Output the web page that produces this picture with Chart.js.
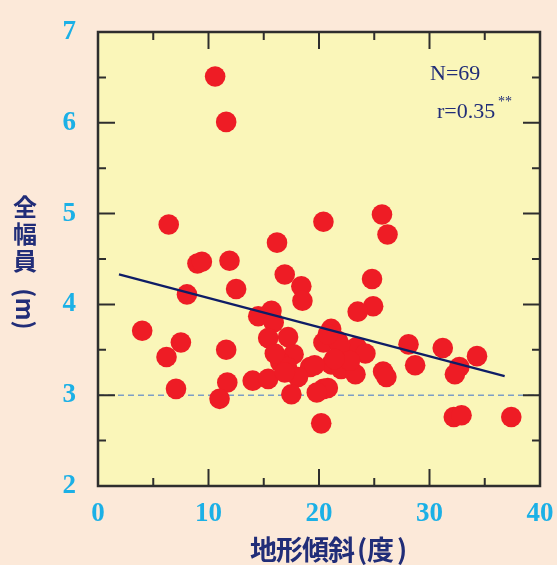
<!DOCTYPE html>
<html>
<head>
<meta charset="utf-8">
<script src="https://cdn.jsdelivr.net/npm/chart.js@4.4.1/dist/chart.umd.min.js"></script>
<style>
  html, body { margin: 0; padding: 0; background: #fce9d9; }
  canvas { display: block; }
</style>
</head>
<body>
<canvas id="chart" width="557" height="565"></canvas>
<script>
// 地形傾斜 (度) と 全幅員 (m) — 読み取った値
const slopeDeg = [10.6, 11.6, 6.4, 20.4, 25.7, 26.2, 16.2, 9.0, 9.4, 11.9,
  16.9, 24.8, 18.4, 12.5, 8.05, 18.5, 24.9, 23.5, 15.7, 14.5,
  15.9, 4.0, 21.1, 15.4, 17.2, 7.5, 20.4, 21.7, 11.6, 6.2,
  17.7, 22.2, 23.4, 24.2, 16.5, 17.1, 19.2, 21.1, 22.0, 23.3,
  18.1, 14.0, 15.4, 11.7, 7.06, 17.5, 11.0, 20.4, 20.8, 19.8,
  20.2, 25.8, 26.1, 28.1, 28.7, 31.2, 32.7, 32.3, 34.3, 32.2,
  32.9, 37.4, 16.9, 21.9, 22.8, 20.8, 21.4, 16.0, 19.6];
const widthM = [6.51, 6.01, 4.88, 4.91, 4.99, 4.77, 4.68, 4.45, 4.47, 4.48,
  4.33, 4.28, 4.20, 4.17, 4.11, 4.04, 3.98, 3.92, 3.93, 3.87,
  3.80, 3.71, 3.73, 3.63, 3.64, 3.58, 3.58, 3.60, 3.50, 3.42,
  3.45, 3.45, 3.53, 3.46, 3.36, 3.31, 3.31, 3.34, 3.29, 3.23,
  3.20, 3.16, 3.18, 3.14, 3.07, 3.01, 2.96, 3.07, 3.08, 3.03,
  2.69, 3.26, 3.20, 3.56, 3.33, 3.52, 3.31, 3.23, 3.43, 2.76,
  2.78, 2.76, 3.25, 3.55, 3.38, 3.67, 3.40, 3.46, 3.33];

// 回帰直線の両端と基準線 (3 m)
const fitX = [1.9, 36.8];
const fitY = [4.33, 3.21];
const refX = [0, 40];
const refY = [3, 3];

const xTicks = [0, 10, 20, 30, 40];
const yTicks = [2, 3, 4, 5, 6, 7];
const xTitle = ['地', '形', '傾', '斜', '(', '度', ')'];
const yTitle = ['全', '幅', '員'];
const yUnit = '(m)';
const noteN = 'N=69';
const noteR = 'r=0.35';

const navy = '#212d78';
const cyan = '#1bb0e6';

const toPts = (xs, ys) => xs.map((x, i) => ({ x: x, y: ys[i] }));

// 枠・目盛り・軸タイトル
const framePlugin = {
  id: 'frame',
  beforeDraw(chart) {
    const a = chart.chartArea, ctx = chart.ctx;
    ctx.save();
    ctx.fillStyle = '#faf6b9';
    ctx.fillRect(a.left, a.top, a.right - a.left, a.bottom - a.top);
    ctx.restore();
  },
  afterDraw(chart) {
    const a = chart.chartArea, ctx = chart.ctx;
    const xs = chart.scales.x, ys = chart.scales.y;
    ctx.save();
    ctx.strokeStyle = '#2e2e2e';
    ctx.lineWidth = 2;
    // 目盛り (内向き、四辺)
    for (let v = 5; v < 40; v += 5) {
      const p = xs.getPixelForValue(v);
      const len = v % 10 === 0 ? 17 : 8;
      ctx.beginPath();
      ctx.moveTo(p, a.bottom); ctx.lineTo(p, a.bottom - len);
      ctx.moveTo(p, a.top); ctx.lineTo(p, a.top + len);
      ctx.stroke();
    }
    for (let v = 2.5; v < 7; v += 0.5) {
      const p = ys.getPixelForValue(v);
      const len = v % 1 === 0 ? 17 : 8;
      ctx.beginPath();
      ctx.moveTo(a.left, p); ctx.lineTo(a.left + len, p);
      ctx.moveTo(a.right, p); ctx.lineTo(a.right - len, p);
      ctx.stroke();
    }
    ctx.lineWidth = 2.5;
    ctx.strokeRect(a.left, a.top, a.right - a.left, a.bottom - a.top);

    // 注記
    ctx.fillStyle = navy;
    ctx.font = '22px "Liberation Serif"';
    ctx.textAlign = 'left';
    ctx.textBaseline = 'alphabetic';
    ctx.fillText(noteN, 430, 80);
    ctx.fillText(noteR, 437, 118);
    ctx.font = '14px "Liberation Serif"';
    ctx.fillText('**', 498, 106);

    // 縦軸タイトル (縦書き)
    ctx.font = 'bold 24px "Noto Sans CJK JP"';
    ctx.textAlign = 'center';
    ctx.textBaseline = 'middle';
    const yc = [207, 234, 261];
    yTitle.forEach((c, i) => ctx.fillText(c, 25, yc[i]));
    ctx.save();
    ctx.translate(25, 309);
    ctx.rotate(Math.PI / 2);
    ctx.fillText(yUnit, 0, 0);
    ctx.restore();

    // 横軸タイトル
    ctx.font = 'bold 27px "Noto Sans CJK JP"';
    const adv = [26, 26, 26, 26, 9, 27, 9];
    const gap = [0, 0, 0, 3, 1, 3, 0];
    let total = 0;
    adv.forEach((w, i) => total += w + gap[i]);
    let x = 328 - total / 2;
    ctx.textAlign = 'left';
    xTitle.forEach((c, i) => {
      ctx.fillText(c, x, 550);
      x += adv[i] + gap[i];
    });
    ctx.restore();
  }
};

new Chart(document.getElementById('chart'), {
  type: 'scatter',
  data: {
    datasets: [
      {
        label: 'ref',
        data: toPts(refX, refY),
        showLine: true,
        borderColor: '#7d9ec6',
        borderWidth: 1.5,
        borderDash: [6, 4],
        pointRadius: 0,
        order: 3
      },
      {
        label: 'points',
        data: toPts(slopeDeg, widthM),
        backgroundColor: '#ee1c25',
        borderWidth: 0,
        pointRadius: 10.3,
        order: 2
      },
      {
        label: 'fit',
        data: toPts(fitX, fitY),
        showLine: true,
        borderColor: '#0e1d66',
        borderWidth: 2.2,
        pointRadius: 0,
        order: 1
      }
    ]
  },
  options: {
    responsive: false,
    animation: false,
    devicePixelRatio: 1,
    layout: { padding: { left: 0, right: 17, top: 32, bottom: 0 } },
    plugins: { legend: { display: false }, tooltip: { enabled: false } },
    scales: {
      x: {
        type: 'linear',
        min: 0, max: 40,
        afterFit(s) { s.height = 79; s.paddingLeft = 0; s.paddingRight = 0; },
        afterBuildTicks(s) { s.ticks = xTicks.map(v => ({ value: v })); },
        grid: { display: false },
        border: { display: false },
        ticks: {
          color: cyan,
          padding: 4,
          maxRotation: 0,
          font: { family: 'Liberation Serif', weight: 'bold', size: 27, lineHeight: 1.2 }
        }
      },
      y: {
        type: 'linear',
        min: 2, max: 7,
        afterFit(s) { s.width = 98; s.paddingTop = 0; s.paddingBottom = 0; },
        afterBuildTicks(s) { s.ticks = yTicks.map(v => ({ value: v })); },
        grid: { display: false },
        border: { display: false },
        ticks: {
          color: cyan,
          padding: 14,
          font: { family: 'Liberation Serif', weight: 'bold', size: 27, lineHeight: 1.2 }
        }
      }
    }
  },
  plugins: [framePlugin]
});
</script>
</body>
</html>
